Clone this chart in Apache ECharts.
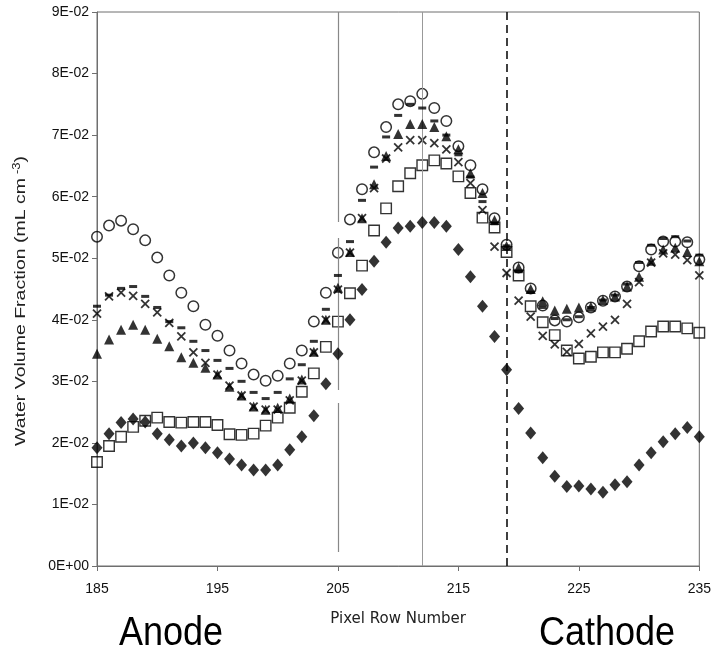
<!DOCTYPE html>
<html>
<head>
<meta charset="utf-8">
<script src="https://cdn.jsdelivr.net/npm/echarts@6/dist/echarts.min.js"></script>
<style>
html,body{margin:0;padding:0;background:#fff;}
#c{width:714px;height:652px;}
</style>
</head>
<body>
<div id="c"></div>
<script>
const rows = [185,186,187,188,189,190,191,192,193,194,195,196,197,198,199,200,201,202,203,204,205,206,207,208,209,210,211,212,213,214,215,216,217,218,219,220,221,222,223,224,225,226,227,228,229,230,231,232,233,234,235];

const circles = [0.0535,0.0553,0.0561,0.0547,0.0529,0.0501,0.0472,0.0444,0.0422,0.0392,0.0374,0.0350,0.0329,0.0311,0.0301,0.0309,0.0329,0.0350,0.0397,0.0444,0.0509,0.0563,0.0612,0.0672,0.0713,0.0750,0.0755,0.0767,0.0744,0.0723,0.0682,0.0651,0.0612,0.0565,0.0522,0.0485,0.0451,0.0423,0.0399,0.0397,0.0404,0.0420,0.0431,0.0438,0.0454,0.0487,0.0514,0.0527,0.0527,0.0526,0.0498];

const dashes = [0.0422,0.0440,0.0451,0.0454,0.0438,0.0420,0.0397,0.0387,0.0365,0.0350,0.0334,0.0321,0.0300,0.0282,0.0272,0.0282,0.0304,0.0327,0.0365,0.0417,0.0472,0.0527,0.0594,0.0648,0.0697,0.0732,0.0750,0.0744,0.0723,0.0700,0.0668,0.0632,0.0592,0.0556,0.0520,0.0478,0.0445,0.0420,0.0402,0.0400,0.0405,0.0420,0.0432,0.0440,0.0458,0.0493,0.0521,0.0532,0.0535,0.0528,0.0505];

const crosses = [0.0410,0.0438,0.0444,0.0439,0.0426,0.0412,0.0395,0.0373,0.0347,0.0330,0.0311,0.0293,0.0277,0.0259,0.0254,0.0254,0.0269,0.0301,0.0347,0.0400,0.0449,0.0509,0.0565,0.0614,0.0662,0.0680,0.0692,0.0692,0.0687,0.0677,0.0656,0.0622,0.0578,0.0519,0.0476,0.0431,0.0405,0.0374,0.0360,0.0348,0.0361,0.0378,0.0389,0.0400,0.0426,0.0461,0.0493,0.0508,0.0506,0.0497,0.0472];

const triangles = [0.0345,0.0368,0.0384,0.0392,0.0384,0.0369,0.0357,0.0339,0.0330,0.0322,0.0311,0.0291,0.0277,0.0259,0.0254,0.0257,0.0272,0.0303,0.0348,0.0400,0.0452,0.0510,0.0565,0.0620,0.0666,0.0702,0.0718,0.0718,0.0713,0.0698,0.0677,0.0638,0.0606,0.0562,0.0520,0.0485,0.0450,0.0430,0.0415,0.0418,0.0420,0.0421,0.0432,0.0438,0.0454,0.0470,0.0496,0.0514,0.0517,0.0510,0.0495];

const squares = [0.0169,0.0195,0.0210,0.0226,0.0236,0.0241,0.0234,0.0233,0.0234,0.0234,0.0229,0.0214,0.0213,0.0215,0.0228,0.0241,0.0257,0.0283,0.0313,0.0356,0.0397,0.0443,0.0488,0.0545,0.0581,0.0617,0.0638,0.0651,0.0659,0.0654,0.0633,0.0606,0.0566,0.0550,0.0510,0.0472,0.0422,0.0396,0.0375,0.0350,0.0337,0.0340,0.0347,0.0347,0.0353,0.0365,0.0381,0.0389,0.0389,0.0386,0.0379];

const diamonds = [0.0192,0.0215,0.0233,0.0239,0.0234,0.0215,0.0205,0.0195,0.0200,0.0192,0.0184,0.0174,0.0164,0.0156,0.0156,0.0164,0.0189,0.0210,0.0244,0.0296,0.0345,0.0400,0.0449,0.0495,0.0526,0.0549,0.0552,0.0558,0.0558,0.0552,0.0514,0.0470,0.0422,0.0373,0.0319,0.0256,0.0216,0.0176,0.0146,0.0129,0.0130,0.0125,0.0120,0.0132,0.0137,0.0164,0.0184,0.0202,0.0215,0.0225,0.0210];

const xTickLabels = ['185','195','205','215','225','235'];
const yTickLabels = ['0E+00','1E-02','2E-02','3E-02','4E-02','5E-02','6E-02','7E-02','8E-02','9E-02'];
const markerLines = [205, 212, 219];
const regionLabels = ['Anode', 'Cathode'];
const xTitle = 'Pixel Row Number';
const yTitle = 'Water Volume Fraction (mL cm{sup|-3})';

function pairs(vals) { return rows.map((r, i) => [r, vals[i]]); }

const chart = echarts.init(document.getElementById('c'), null, {renderer: 'canvas'});
const font = '"Liberation Sans", Arial, sans-serif';
const axisGray = '#6f6f6f';
const bigFont = '40px "Liberation Sans", Arial, sans-serif';

const option = {
  backgroundColor: '#fff',
  animation: false,
  grid: {left: 97, right: 14, top: 12, bottom: 86, show: true, borderColor: axisGray, borderWidth: 1},
  xAxis: {
    type: 'value', min: 185, max: 235, interval: 10,
    name: xTitle, nameLocation: 'middle', nameGap: 46,
    nameTextStyle: {fontFamily: '"DejaVu Sans", sans-serif', fontSize: 15, color: '#222'},
    axisLine: {show: true, lineStyle: {color: axisGray, width: 1}},
    axisTick: {show: true, inside: false, length: 5, lineStyle: {color: axisGray}},
    axisLabel: {fontFamily: font, fontSize: 14, color: '#111', margin: 16,
      formatter: v => xTickLabels[Math.round((v - 185) / 10)]},
    splitLine: {show: false}
  },
  yAxis: {
    type: 'value', min: 0, max: 0.09, interval: 0.01,
    axisLine: {show: true, lineStyle: {color: axisGray, width: 1}},
    axisTick: {show: true, inside: false, length: 5, lineStyle: {color: axisGray}},
    axisLabel: {fontFamily: font, fontSize: 14, color: '#111', margin: 8,
      formatter: v => yTickLabels[Math.round(v / 0.01)]},
    splitLine: {show: false}
  },
  graphic: [
    {type: 'text', x: 21, y: 301, rotation: Math.PI / 2, scaleX: 1.3,
      style: {text: yTitle, font: '15px "Liberation Sans", Arial, sans-serif', fill: '#222',
        align: 'center', verticalAlign: 'middle',
        rich: {sup: {font: '10px "Liberation Sans", Arial, sans-serif', fill: '#222', verticalAlign: 'top', padding: [0, 0, 8, 3]}}}},
    {type: 'text', x: 171, y: 634, scaleX: 0.9,
      style: {text: regionLabels[0], font: bigFont, fill: '#000', align: 'center', verticalAlign: 'middle'}},
    {type: 'text', x: 607, y: 634, scaleX: 0.9,
      style: {text: regionLabels[1], font: bigFont, fill: '#000', align: 'center', verticalAlign: 'middle'}}
  ],
  series: [
    {
      type: 'scatter', name: 'squares', data: pairs(squares), symbol: 'rect', symbolSize: 10.5, z: 2,
      itemStyle: {color: 'rgba(0,0,0,0)', borderColor: '#000', borderWidth: 1.4},
      markLine: {
        silent: true, symbol: 'none', label: {show: false}, animation: false,
        data: [
          {xAxis: markerLines[0], lineStyle: {color: '#888', width: 1.2, type: [149, 13, 152, 16, 220, 14], dashOffset: 550}},
          {xAxis: markerLines[1], lineStyle: {color: '#999', width: 1, type: 'solid'}},
          {xAxis: markerLines[2], lineStyle: {color: '#111', width: 1.6, type: [8, 5]}}
        ]
      }
    },
    {type: 'scatter', name: 'circles', data: pairs(circles), symbol: 'circle', symbolSize: 10.5, z: 3,
      itemStyle: {color: 'rgba(0,0,0,0)', borderColor: '#000', borderWidth: 1.5}},
    {type: 'scatter', name: 'crosses', data: pairs(crosses), symbol: 'path://M0,0L10,10M10,0L0,10', symbolSize: 8, z: 4,
      itemStyle: {color: '#000', borderColor: '#000', borderWidth: 1.8}},
    {type: 'scatter', name: 'dashes', data: pairs(dashes), symbol: 'rect', symbolSize: [8, 3], z: 5,
      itemStyle: {color: '#000'}},
    {type: 'scatter', name: 'triangles', data: pairs(triangles), symbol: 'triangle', symbolSize: 10, z: 6,
      itemStyle: {color: '#000'}},
    {type: 'scatter', name: 'diamonds', data: pairs(diamonds), symbol: 'diamond', symbolSize: [11, 13], z: 7,
      itemStyle: {color: '#000'}}
  ]
};
chart.setOption(option);
</script>
</body>
</html>
